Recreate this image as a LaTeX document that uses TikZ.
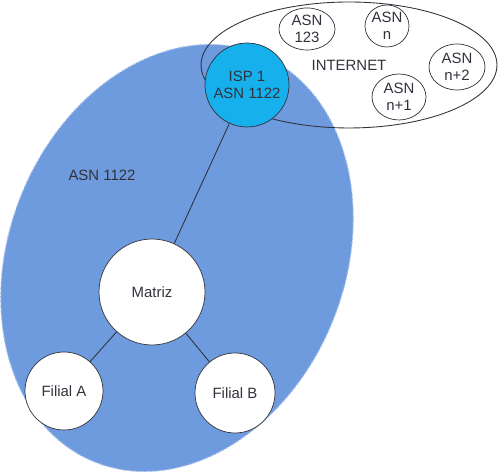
\documentclass[tikz,border=0pt]{standalone}
\usepackage{fontspec}
\setmainfont{Liberation Sans}
\usetikzlibrary{shapes.geometric}
\definecolor{asblue}{RGB}{110,155,222}
\definecolor{asedge}{RGB}{170,195,235}
\definecolor{ispcyan}{RGB}{22,176,236}
\definecolor{ink}{RGB}{50,50,60}
\tikzset{
  site/.style={circle, draw=ink, fill=white, inner sep=0pt},
  asn/.style={ellipse, draw=ink, fill=white, inner sep=0pt, align=center},
  link/.style={draw=ink, line width=0.5pt}
}

\begin{document}
\begin{tikzpicture}[x=0.02cm, y=0.02cm, font=\fontsize{8.5}{9.5}\selectfont, text=ink]
  \useasboundingbox (0,0) rectangle (500,475);
  % autonomous system of the company (tilted, dashed rim)
  \fill[asblue, rotate around={-22:(177,217)}] (177,217) ellipse [x radius=168, y radius=220];
  \draw[asedge, line width=0.6pt, dash pattern=on 1.5pt off 1pt, rotate around={-22:(177,217)}]
    (177,217) ellipse [x radius=168, y radius=220];
  \node (asname) at (102,300) {ASN 1122};
  % internet cloud with its neighbour systems
  \node[ellipse, draw=ink, line width=0.5pt, minimum width=5.92cm, minimum height=2.52cm, inner sep=0pt]
    (inet) at (349,410) {INTERNET};
  \node[asn, minimum width=1.12cm, minimum height=0.84cm] (asA) at (307,446) {ASN\\123};
  \node[asn, minimum width=0.88cm, minimum height=0.84cm] (asB) at (387,449) {ASN\\n};
  \node[asn, minimum width=1.12cm, minimum height=0.92cm] (asC) at (457,408) {ASN\\n+2};
  \node[asn, minimum width=1.08cm, minimum height=0.92cm] (asD) at (399,378) {ASN\\n+1};
  % provider edge
  \node[circle, draw=ink, fill=ispcyan, inner sep=0pt, minimum size=1.68cm, align=center]
    (isp) at (247,390) {ISP 1\\ASN 1122};
  % company sites
  \node[site, minimum size=2.12cm] (hq) at (152,183) {Matriz};
  \node[site, minimum size=1.56cm] (brA) at (64,84) {Filial A};
  \node[site, minimum size=1.60cm] (brB) at (235,82) {Filial B};
  \draw[link] (isp) -- (hq);
  \draw[link] (hq) -- (brA);
  \draw[link] (hq) -- (brB);
\end{tikzpicture}
\end{document}
